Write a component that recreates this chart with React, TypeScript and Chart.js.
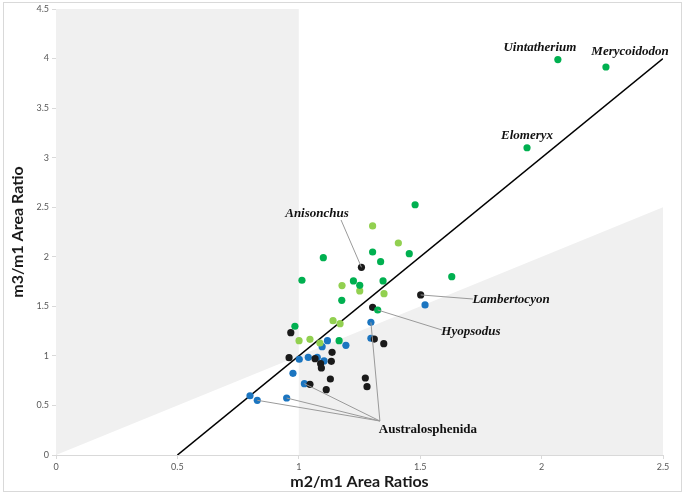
import React, { useEffect, useRef } from "react";
import { Chart, registerables } from "chart.js";

Chart.register(...registerables);

// ---- data ----
const darkGreenX = [2.067, 2.265, 1.94, 1.479, 1.101, 1.304, 1.455, 1.337, 1.013, 1.225, 1.251, 1.347, 1.177, 1.63, 1.325, 0.984, 1.166];
const darkGreenY = [3.99, 3.915, 3.1, 2.525, 1.991, 2.048, 2.031, 1.951, 1.763, 1.756, 1.712, 1.756, 1.561, 1.799, 1.463, 1.299, 1.153];

const lightGreenX = [1.304, 1.41, 1.178, 1.251, 1.351, 1.141, 1.17, 1.001, 1.046, 1.087];
const lightGreenY = [2.311, 2.139, 1.709, 1.655, 1.628, 1.355, 1.325, 1.153, 1.167, 1.13];

const blackX = [1.258, 1.502, 1.304, 0.967, 1.137, 0.96, 1.067, 1.09, 1.093, 1.134, 1.13, 1.046, 1.113, 1.311, 1.35, 1.274, 1.281];
const blackY = [1.894, 1.615, 1.49, 1.234, 1.036, 0.982, 0.972, 0.921, 0.878, 0.945, 0.767, 0.713, 0.659, 1.17, 1.123, 0.777, 0.689];

const blueX = [1.52, 1.118, 1.096, 1.194, 1.002, 1.039, 1.076, 1.104, 0.976, 1.023, 0.799, 0.829, 0.95, 1.297, 1.297];
const blueY = [1.514, 1.153, 1.093, 1.107, 0.966, 0.986, 0.986, 0.949, 0.824, 0.72, 0.598, 0.552, 0.575, 1.339, 1.178];

// reference line y = 2x - 1
const refLineX = [0.5, 2.5];
const refLineY = [0, 4];

// shaded regions (data coordinates)
const shadeLeftX = [0, 0, 1, 1];
const shadeLeftY = [0, 4.5, 4.5, 1];
const shadeRightX = [1, 2.5, 2.5, 1];
const shadeRightY = [1, 2.5, 0, 0];

// annotation labels
const labelTexts = ["Uintatherium", "Merycoidodon", "Elomeryx", "Anisonchus", "Lambertocyon", "Hyopsodus", "Australosphenida"];
const labelX = [1.993, 2.364, 1.94, 1.075, 1.874, 1.709, 1.532];
const labelY = [4.11, 4.067, 3.219, 2.432, 1.564, 1.241, 0.252];
const labelItalic = [true, true, true, true, true, true, false];

// leader lines
const leaderFromX = [1.174, 1.502, 1.325, 1.334, 1.334, 1.334, 1.334];
const leaderFromY = [2.371, 1.615, 1.463, 0.343, 0.343, 0.343, 0.343];
const leaderToX = [1.258, 1.717, 1.59, 0.829, 0.95, 1.023, 1.297];
const leaderToY = [1.894, 1.574, 1.261, 0.552, 0.575, 0.72, 1.339];

const xTicks = [0, 0.5, 1, 1.5, 2, 2.5];
const yTicks = [0, 0.5, 1, 1.5, 2, 2.5, 3, 3.5, 4, 4.5];

const zip = (xs: number[], ys: number[]) => xs.map((x, i) => ({ x, y: ys[i] }));

const overlayPlugin = {
  id: "overlay",
  beforeDatasetsDraw(chart: any) {
    const { ctx, scales } = chart;
    const xs = scales.x;
    const ys = scales.y;
    ctx.save();
    ctx.fillStyle = "#F0F0F0";
    const poly = (px: number[], py: number[]) => {
      ctx.beginPath();
      px.forEach((v, i) => {
        const X = xs.getPixelForValue(v);
        const Y = ys.getPixelForValue(py[i]);
        if (i === 0) ctx.moveTo(X, Y);
        else ctx.lineTo(X, Y);
      });
      ctx.closePath();
      ctx.fill();
    };
    poly(shadeLeftX, shadeLeftY);
    poly(shadeRightX, shadeRightY);
    ctx.restore();
  },
  afterDatasetsDraw(chart: any) {
    const { ctx, scales } = chart;
    const xs = scales.x;
    const ys = scales.y;
    ctx.save();
    ctx.strokeStyle = "#9A9A9A";
    ctx.lineWidth = 1;
    leaderFromX.forEach((x1, i) => {
      ctx.beginPath();
      ctx.moveTo(xs.getPixelForValue(x1), ys.getPixelForValue(leaderFromY[i]));
      ctx.lineTo(xs.getPixelForValue(leaderToX[i]), ys.getPixelForValue(leaderToY[i]));
      ctx.stroke();
    });
    ctx.fillStyle = "#111";
    ctx.textAlign = "center";
    ctx.textBaseline = "middle";
    labelTexts.forEach((t, i) => {
      ctx.font = `${labelItalic[i] ? "italic " : ""}bold 13px "Liberation Serif", serif`;
      ctx.fillText(t, xs.getPixelForValue(labelX[i]), ys.getPixelForValue(labelY[i]));
    });
    ctx.restore();
  },
  afterDraw(chart: any) {
    const { ctx } = chart;
    ctx.save();
    ctx.strokeStyle = "#D9D9D9";
    ctx.lineWidth = 1;
    ctx.strokeRect(3.5, 2.5, 678, 489);
    ctx.restore();
  },
};

export default function App() {
  const ref = useRef<HTMLCanvasElement>(null);
  useEffect(() => {
    if (!ref.current) return;
    const pointDs = (label: string, xs: number[], ys: number[], color: string) => ({
      type: "scatter" as const,
      label,
      data: zip(xs, ys),
      backgroundColor: color,
      borderWidth: 0,
      pointRadius: 3.6,
      pointHoverRadius: 3.6,
    });
    const chart = new Chart(ref.current, {
      type: "scatter",
      data: {
        datasets: [
          {
            type: "line" as const,
            label: "ref",
            data: zip(refLineX, refLineY),
            borderColor: "#000",
            borderWidth: 1.6,
            pointRadius: 0,
            fill: false,
            order: 5,
          } as any,
          pointDs("A", darkGreenX, darkGreenY, "#00B050"),
          pointDs("B", lightGreenX, lightGreenY, "#92D050"),
          pointDs("C", blackX, blackY, "#1A1A1A"),
          pointDs("D", blueX, blueY, "#1B75C0"),
        ],
      },
      options: {
        animation: false,
        responsive: false,
        devicePixelRatio: 1,
        layout: { padding: { left: 8, right: 22, top: 9, bottom: 6 } },
        plugins: { legend: { display: false }, tooltip: { enabled: false } },
        scales: {
          x: {
            type: "linear",
            min: 0,
            max: 2.5,
            afterBuildTicks: (s: any) => {
              s.ticks = xTicks.map((v) => ({ value: v }));
            },
            grid: { display: true, drawOnChartArea: false, color: "#D9D9D9", tickLength: 4 },
            border: { color: "#D9D9D9" },
            ticks: { color: "#595959", font: { size: 9, family: "Lato" }, padding: 3, callback: (v: any) => String(v) },
            title: {
              display: true,
              text: "m2/m1 Area Ratios",
              color: "#1A1A1A",
              font: { size: 16, weight: "bold", family: "Lato" },
              padding: { top: 2, bottom: 0 },
            },
            afterFit: (s: any) => {
              s.height = 497 - 455 - 6;
            },
          },
          y: {
            type: "linear",
            min: 0,
            max: 4.5,
            afterBuildTicks: (s: any) => {
              s.ticks = yTicks.map((v) => ({ value: v }));
            },
            grid: { display: true, drawOnChartArea: false, color: "#D9D9D9", tickLength: 4 },
            border: { color: "#D9D9D9" },
            ticks: { color: "#595959", font: { size: 9, family: "Lato" }, padding: 3, callback: (v: any) => String(v) },
            title: {
              display: true,
              text: "m3/m1 Area Ratio",
              color: "#1A1A1A",
              font: { size: 16, weight: "bold", family: "Lato" },
              padding: { top: 0, bottom: 4 },
            },
            afterFit: (s: any) => {
              s.width = 56 - 8;
            },
          },
        },
      },
      plugins: [overlayPlugin],
    });
    return () => chart.destroy();
  }, []);
  return (
    <div style={{ position: "absolute", left: 0, top: 0, width: 685, height: 497, background: "#fff" }}>
      <canvas ref={ref} width={685} height={497} style={{ width: 685, height: 497, display: "block" }} />
    </div>
  );
}
